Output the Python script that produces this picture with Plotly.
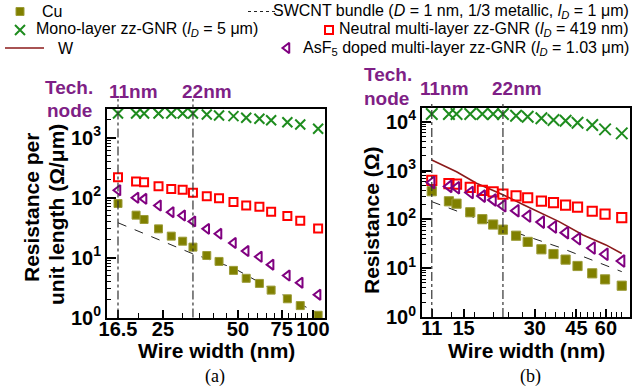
import plotly.graph_objects as go

FIG_W, FIG_H = 644, 390

# ---------------- data ----------------
# wire widths (nm) for panel (a) and panel (b)
width_a = [16.5, 19.5, 21, 24, 27, 30, 33, 37.5, 42, 48, 54, 61, 68, 79, 89, 105]
width_b = [11, 13, 14, 16, 18, 20, 22, 25, 28, 32, 36, 40.5, 45.5, 52.5, 59.5, 70]

# (a) resistance per unit length (Ohm/um)
cu_a = [79.4, 50.8, 43, 30, 22.7, 18.7, 14.9, 10.8, 8.6, 6.1, 4.5, 3.7, 2.86, 2.05, 1.58, 1.09]
mono_a = [2510, 2510, 2510, 2510, 2510, 2510, 2510, 2420, 2330, 2270, 2130, 2050, 1940, 1800, 1650, 1400]
neutral_a = [218, 185, 180, 154, 139, 134, 120, 105, 97, 84, 73.5, 70, 58, 49, 41, 30.4]
asf5_a = [132, 99, 95, 73.5, 57, 50, 40, 30, 24.8, 17.5, 12.8, 10.3, 7.6, 5.0, 3.8, 2.4]
swcnt_width_a = [16.5, 33, 48, 67, 105]
swcnt_a = [37.9, 11.5, 6.7, 3.1, 1.17]

# (b) resistance (Ohm)
cu_b = [378, 235, 210, 140, 101, 78.5, 61.7, 46.3, 34.6, 24.4, 19.5, 15, 11.1, 7.85, 5.9, 4.38]
mono_b = [14450, 14450, 14450, 14450, 14450, 14450, 14450, 13300, 12700, 11800, 10900, 10500, 9600, 8600, 7000, 5800]
neutral_b = [631, 540, 528, 455, 394, 365, 330, 304, 278, 237, 220, 196, 178, 147, 128, 109]
asf5_b = [570, 475, 445, 356, 300, 251, 190, 151, 117, 88, 70, 53.5, 40, 26, 19.3, 14]
w_width_b = [11, 14, 17, 22, 27, 38, 48, 60, 70]
w_b = [1650, 950, 550, 320, 197, 90, 48, 30, 20]
swcnt_width_b = [11, 22, 38, 70]
swcnt_b = [231, 66, 27, 8.5]

# technology nodes and the wire widths they sit at
tech_nodes = ["11nm", "22nm"]
node_width_a = [16.5, 33]
node_width_b = [11, 22]

# axis ticks
xtick_a = [16.5, 25, 50, 75, 100]
xminor_a = [20, 30, 35, 40, 45, 55, 60, 65, 70, 80, 85, 90, 95]
xtick_b = [11, 15, 30, 45, 60]
xminor_b = [k * 10 / 3 for k in range(4, 22)]
ytick_a = [1, 10, 100, 1000]
ytick_b = [1, 10, 100, 1000, 10000]

# ---------------- styles ----------------
FONT = "Liberation Sans, Arial, sans-serif"
PURPLE_TXT = "#7f1f86"
CU = "#808000"
GREEN = "#1e8c1e"
RED = "#ff0000"
PURPLE = "#800080"
MAROON = "#8b1a1a"


def px(x):
    return x / FIG_W


def py(y):
    return 1 - y / FIG_H


def markers(size_scale):
    s = size_scale
    return {
        "cu": dict(symbol="square", size=8 * s, color=CU, line=dict(color="#9c9c38", width=1)),
        "mono": dict(symbol="x-thin", size=10 * s, color=GREEN, line=dict(color=GREEN, width=2)),
        "neutral": dict(symbol="square-open", size=8 * s, color=RED, line=dict(width=2)),
        "asf5": dict(symbol="triangle-left-open", size=9 * s, color=PURPLE, line=dict(width=2)),
    }


fig = go.Figure()


def add(x, y, xa, ya, **kw):
    fig.add_trace(go.Scatter(x=x, y=y, xaxis=xa, yaxis=ya, showlegend=False,
                             hoverinfo="skip", cliponaxis=False, **kw))


# panel (a)
ma = markers(1.0)
add(swcnt_width_a, swcnt_a, "x", "y", mode="lines", line=dict(color="#222", width=1, dash="dash"))
add(width_a, cu_a, "x", "y", mode="markers", marker=ma["cu"])
add(width_a, mono_a, "x", "y", mode="markers", marker=ma["mono"])
add(width_a, neutral_a, "x", "y", mode="markers", marker=ma["neutral"])
add(width_a, asf5_a, "x", "y", mode="markers", marker=ma["asf5"])

# panel (b)
mb = markers(1.15)
add(swcnt_width_b, swcnt_b, "x2", "y2", mode="lines", line=dict(color="#222", width=1, dash="dash"))
add(w_width_b, w_b, "x2", "y2", mode="lines", line=dict(color=MAROON, width=1.6))
add(width_b, cu_b, "x2", "y2", mode="markers", marker=mb["cu"])
add(width_b, mono_b, "x2", "y2", mode="markers", marker=mb["mono"])
add(width_b, neutral_b, "x2", "y2", mode="markers", marker=mb["neutral"])
add(width_b, asf5_b, "x2", "y2", mode="markers", marker=mb["asf5"])

# legend keys, drawn in a full-figure pixel frame
leg_rows = [11.5, 30, 48]
add([20], [leg_rows[0]], "x3", "y3", mode="markers", marker=ma["cu"])
add([248, 277], [leg_rows[0]] * 2, "x3", "y3", mode="lines", line=dict(color="#222", width=1, dash="dot"))
add([20], [leg_rows[1]], "x3", "y3", mode="markers", marker=ma["mono"])
add([329], [leg_rows[1]], "x3", "y3", mode="markers", marker=ma["neutral"])
add([5, 44], [leg_rows[2]] * 2, "x3", "y3", mode="lines", line=dict(color=MAROON, width=1.6))
add([287], [leg_rows[2]], "x3", "y3", mode="markers", marker=ma["asf5"])

# left column starts at a fixed x, right column ends at the right edge
legend_left = [
    (40, leg_rows[0], "Cu"),
    (34, leg_rows[1], "Mono-layer zz-GNR (<i>l</i><sub><i>D</i></sub> = 5 μm)"),
    (56, leg_rows[2], "W"),
]
legend_right = [
    (631, leg_rows[0], "SWCNT bundle (<i>D</i> = 1 nm, 1/3 metallic, <i>l</i><sub><i>D</i></sub> = 1 μm)"),
    (631, leg_rows[1], "Neutral multi-layer zz-GNR (<i>l</i><sub><i>D</i></sub> = 419 nm)"),
    (631, leg_rows[2], "AsF<sub>5</sub> doped multi-layer zz-GNR (<i>l</i><sub><i>D</i></sub> = 1.03 μm)"),
]


def xaxis_cfg(domain, rng, tickvals, minor_vals, anchor):
    return dict(
        type="log", domain=domain, range=rng, anchor=anchor,
        tickmode="array", tickvals=tickvals,
        ticktext=[f"<b>{v:g}</b>" for v in tickvals],
        ticks="inside", ticklen=8, tickwidth=1.5, tickcolor="black",
        minor=dict(tickmode="array", tickvals=minor_vals, ticks="inside",
                   ticklen=5, tickwidth=1.2, tickcolor="black", showgrid=False),
        showline=True, linewidth=2, linecolor="black", mirror=True,
        showgrid=False, zeroline=False, automargin=False,
        ticklabelstandoff=-8,
        tickfont=dict(size=20, color="black", family=FONT),
    )


def yaxis_cfg(domain, rng, tickvals, anchor):
    minor_vals = [m * v for v in tickvals for m in range(2, 10)]
    return dict(
        type="log", domain=domain, range=rng, anchor=anchor,
        tickmode="array", tickvals=tickvals,
        ticktext=[f"<b>10<sup>{len(str(v)) - 1}</sup></b>" for v in tickvals],
        ticks="inside", ticklen=9, tickwidth=1.5, tickcolor="black",
        minor=dict(tickmode="array", tickvals=minor_vals, ticks="inside",
                   ticklen=4, tickwidth=1.2, tickcolor="black", showgrid=False),
        showline=True, linewidth=2, linecolor="black", mirror=True,
        showgrid=False, zeroline=False, automargin=False,
        tickfont=dict(size=20, color="black", family=FONT),
    )


ya_dom = [py(317.5), py(109)]
yb_dom = [py(317), py(108)]

fig.update_layout(
    width=FIG_W, height=FIG_H,
    margin=dict(l=0, r=0, t=0, b=0),
    paper_bgcolor="white", plot_bgcolor="rgba(0,0,0,0)",
    font=dict(family=FONT, color="black"),
    showlegend=False,
    xaxis=xaxis_cfg([px(107), px(325)], [1.1733, 2.0488], xtick_a, xminor_a, "y"),
    yaxis=yaxis_cfg(ya_dom, [0, 3.475], ytick_a, "x"),
    xaxis2=xaxis_cfg([px(422), px(630)], [1.0, 1.880], xtick_b, xminor_b, "y2"),
    yaxis2=yaxis_cfg(yb_dom, [0, 4.283], ytick_b, "x2"),
    xaxis3=dict(domain=[0, 1], range=[0, FIG_W], visible=False, anchor="y3", fixedrange=True),
    yaxis3=dict(domain=[0, 1], range=[FIG_H, 0], visible=False, anchor="x3", fixedrange=True),
)

# technology-node guide lines
shapes = []
for xa, widths, dom, top in (("x", node_width_a, ya_dom, 99), ("x2", node_width_b, yb_dom, 103)):
    for w in widths:
        shapes.append(dict(type="line", xref=xa, yref="paper", x0=w, x1=w,
                           y0=dom[0], y1=py(top),
                           line=dict(color="#333", width=1.2, dash="dashdot")))
fig.update_layout(shapes=shapes)

ann = []


def text(x, y, s, size, color="black", xanchor="center", angle=0, family=FONT):
    ann.append(dict(x=px(x), y=py(y), xref="paper", yref="paper", text=s,
                    showarrow=False, xanchor=xanchor, yanchor="middle",
                    textangle=angle, font=dict(size=size, color=color, family=family)))


for x, y, s in legend_left:
    text(x, y, s, 16, xanchor="left")
for x, y, s in legend_right:
    text(x, y, s, 16, xanchor="right")

# axis titles
text(31, 208, "<b>Resistance per</b>", 21, angle=-90)
text(56, 215, "<b>unit length (Ω/μm)</b>", 21, angle=-90)
text(371, 220, "<b>Resistance (Ω)</b>", 21, angle=-90)
text(216, 350, "<b>Wire width (nm)</b>", 21)
text(526, 350, "<b>Wire width (nm)</b>", 21)
text(215, 376, "(a)", 18, family="Liberation Serif, Times New Roman, serif")
text(530, 376, "(b)", 18, family="Liberation Serif, Times New Roman, serif")

# technology-node labels
text(43, 87, "<b>Tech.</b>", 19, PURPLE_TXT, xanchor="left")
text(45, 110, "<b>node</b>", 19, PURPLE_TXT, xanchor="left")
text(362, 74, "<b>Tech.</b>", 19, PURPLE_TXT, xanchor="left")
text(362, 98, "<b>node</b>", 19, PURPLE_TXT, xanchor="left")
for (xa, ya), s in zip(((133, 91), (207, 91)), tech_nodes):
    text(xa, ya, f"<b>{s}</b>", 19, PURPLE_TXT)
for (xb, yb), s in zip(((444, 89), (517, 89)), tech_nodes):
    text(xb, yb, f"<b>{s}</b>", 19, PURPLE_TXT)

fig.update_layout(annotations=ann)

fig.write_html("out.html")
